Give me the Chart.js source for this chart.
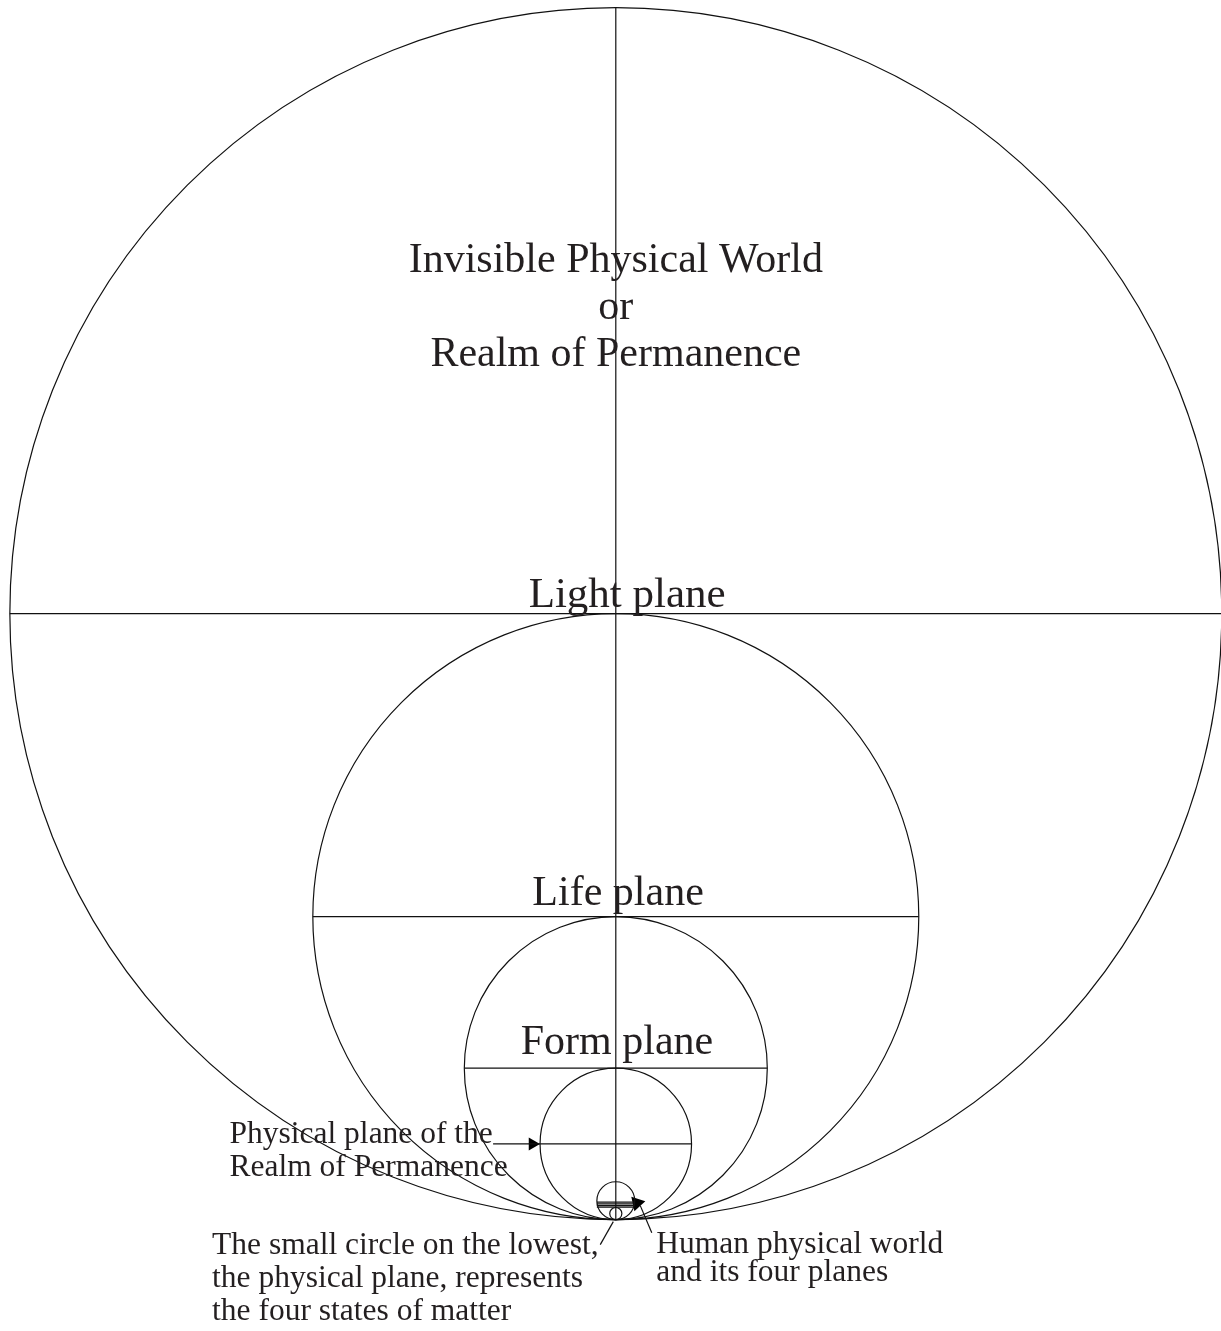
<!DOCTYPE html>
<html>
<head>
<meta charset="utf-8">
<title>Invisible Physical World or Realm of Permanence</title>
<script src="https://cdn.jsdelivr.net/npm/chart.js@4.4.0/dist/chart.umd.min.js"></script>
<style>
  html, body { margin: 0; padding: 0; background: #fff; }
  canvas { display: block; }
</style>
</head>
<body>
<canvas id="planes" width="1221" height="1331"></canvas>
<script>
// all circles touch at the bottom point (0, 0); one unit = radius of the form-plane circle
const planeNames = ['Invisible Physical World', 'Light plane', 'Life plane', 'Form plane'];
const planeRadii = [8, 4, 2, 1];
const humanWorldRadius = 0.25;
const matterCircleRadius = 0.08;
const matterLevels = [0.23, 0.208, 0.186, 0.164];

const titleLines = ['Invisible Physical World', 'or', 'Realm of Permanence'];
const permanenceNote = ['Physical plane of the', 'Realm of Permanence'];
const matterNote = ['The small circle on the lowest,', 'the physical plane, represents', 'the four states of matter'];
const humanNote = ['Human physical world', 'and its four planes'];

// pointer lines [from, to] and arrow heads
const pointerLines = [
  [{ x: -1.62, y: 1 }, { x: -1.0, y: 1 }],
  [{ x: 0.475, y: -0.172 }, { x: 0.323, y: 0.185 }],
  [{ x: -0.033, y: -0.026 }, { x: -0.205, y: -0.33 }]
];
const arrowHeads = [{ x: -1.1, y: 1 }, { x: 0.28, y: 0.219 }];

const allRadii = [...planeRadii, humanWorldRadius, matterCircleRadius];
const INK = '#231f20';
const FONT = '"Liberation Serif", "Times New Roman", serif';

function unitPx(chart) {
  const sx = chart.scales.x;
  return sx.getPixelForValue(1) - sx.getPixelForValue(0);
}

function lineSet(points) {
  return {
    data: points,
    showLine: true,
    borderColor: '#111',
    borderWidth: 1.2,
    pointRadius: 0
  };
}

const labels = [
  { lines: titleLines, x: 0, y: 12.51, size: 42, gap: 47, align: 'center' },
  { lines: [planeNames[1]], x: 0.15, y: 8.09, size: 43, gap: 0, align: 'center' },
  { lines: [planeNames[2]], x: 0.03, y: 4.16, size: 42, gap: 0, align: 'center' },
  { lines: [planeNames[3]], x: 0.015, y: 2.18, size: 42, gap: 0, align: 'center' },
  { lines: permanenceNote, x: -5.1, y: 1.01, size: 31.5, gap: 33, align: 'left' },
  { lines: matterNote, x: -5.33, y: -0.45, size: 31.5, gap: 33, align: 'left' },
  { lines: humanNote, x: 0.535, y: -0.436, size: 31.5, gap: 28.5, align: 'left' }
];

const textPlugin = {
  id: 'planeText',
  afterDatasetsDraw(chart) {
    const { ctx, scales: { x, y } } = chart;
    ctx.save();
    ctx.fillStyle = INK;
    ctx.textBaseline = 'alphabetic';
    labels.forEach(l => {
      ctx.font = `${l.size}px ${FONT}`;
      ctx.textAlign = l.align;
      l.lines.forEach((t, i) => {
        ctx.fillText(t, x.getPixelForValue(l.x), y.getPixelForValue(l.y) + i * l.gap);
      });
    });
    ctx.restore();
  }
};

const datasets = [];

// circles
datasets.push({
  data: allRadii.map(r => ({ x: 0, y: r })),
  showLine: false,
  pointStyle: 'circle',
  pointRadius: c => unitPx(c.chart) * allRadii[c.dataIndex],
  pointBackgroundColor: 'rgba(0,0,0,0)',
  pointBorderColor: '#111',
  pointBorderWidth: 1.2
});

// vertical axis through every circle
datasets.push(lineSet([{ x: 0, y: planeRadii[0] * 2 }, { x: 0, y: 0 }]));

// dividing diameters of each plane
planeRadii.forEach(r => datasets.push(lineSet([{ x: -r, y: r }, { x: r, y: r }])));

// four states of matter inside the human world circle
matterLevels.forEach(v => datasets.push(lineSet([{ x: -humanWorldRadius, y: v }, { x: humanWorldRadius * 0.95, y: v }])));

pointerLines.forEach(p => datasets.push(lineSet(p)));

datasets.push({
  data: arrowHeads,
  showLine: false,
  pointStyle: 'triangle',
  rotation: [90, 78],
  pointRadius: [7.5, 8.5],
  pointBackgroundColor: '#000',
  pointBorderColor: '#000',
  pointBorderWidth: 0
});

new Chart(document.getElementById('planes'), {
  type: 'scatter',
  data: { datasets },
  options: {
    responsive: false,
    animation: false,
    events: [],
    layout: { padding: 0, autoPadding: false },
    plugins: { legend: { display: false }, tooltip: { enabled: false } },
    scales: {
      x: { type: 'linear', min: -8.13, max: 7.99, display: false },
      y: { type: 'linear', min: -1.47, max: 16.1, display: false }
    }
  },
  plugins: [textPlugin]
});
</script>
</body>
</html>
